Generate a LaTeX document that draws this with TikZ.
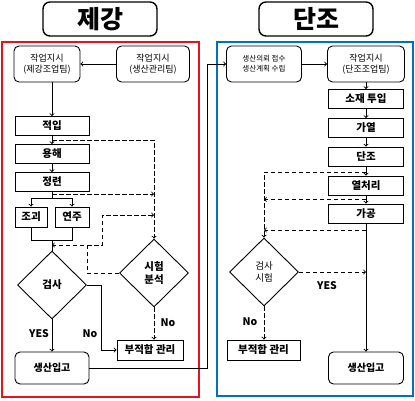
\documentclass[tikz,border=0pt]{standalone}
\usepackage{fontspec}
\setmainfont{Noto Sans CJK KR}
\usetikzlibrary{shapes.geometric}
\definecolor{framered}{RGB}{228,20,30}
\definecolor{frameblue}{RGB}{0,112,192}

\begin{document}
\begin{tikzpicture}[x=1pt, y=-1pt, line width=0.9pt,
  title/.style={draw, rounded corners=7pt, line width=1.4pt, minimum width=114pt, minimum height=34pt, font=\fontsize{25}{27}\selectfont\bfseries},
  box/.style={draw, minimum height=19pt, inner sep=0pt, font=\fontsize{10.5}{12}\selectfont\bfseries},
  rbox/.style={draw, rounded corners=5pt, minimum height=36pt, inner sep=0pt, align=center, font=\fontsize{9}{11.5}\selectfont},
  dia/.style={draw, diamond, inner sep=0pt, minimum width=69pt, minimum height=68pt, align=center, font=\fontsize{10.5}{13}\selectfont\bfseries},
  dline/.style={dashed, dash pattern=on 4.5pt off 2.5pt},
  lbl/.style={font=\fontsize{10.5}{12}\selectfont\bfseries}]
\useasboundingbox (0,0) rectangle (415,400);
% Titles
\node[title] (t1) at (100,19) {제강};
\node[title] (t2) at (316,19) {단조};
% Frames
\draw[framered, line width=1.3pt] (2,42) rectangle (199,397);
\draw[frameblue, line width=1.3pt] (217,42) rectangle (413,396);

% 제강
\node[rbox, minimum width=66pt] (wo1) at (47,64) {작업지시\\(제강조업팀)};
\node[rbox, minimum width=73pt] (wo2) at (153,64) {작업지시\\(생산관리팀)};
\foreach \y/\name/\txt in {126/s1/적입,154/s2/용해,182/s3/정련}
  \node[box, minimum width=74pt] (\name) at (52,\y) {\txt};
\node[box, minimum width=32pt, minimum height=20pt] (ingot) at (31,217) {조괴};
\node[box, minimum width=34pt, minimum height=20pt] (cc) at (72,217) {연주};
\node[dia] (insp1) at (52,285) {검사};
\node[dia] (test) at (154,273) {시험\\분석};
\node[box, minimum width=66pt, minimum height=20pt] (rej1) at (150,350) {부적합 관리};
\node[rbox, minimum width=74pt, minimum height=32pt, font=\fontsize{10}{12}\selectfont\bfseries] (st1) at (52,368) {생산입고};
\node[lbl] (yes1) at (39,334) {YES};
\node[lbl] (no1) at (90,334) {No};
\node[lbl] (no2) at (168,323) {No};

\draw[->] (wo2) -- (wo1);
\draw[->] (wo1.south -| s1) -- (s1);
\draw[->] (s1) -- (s2);
\draw[->] (s2) -- (s3);
\coordinate (sp) at (52,198);
\draw (s3) -- (sp);
\draw[->] (sp) -| (ingot);
\draw[->] (sp) -| (cc);
\coordinate (jn) at (52,240);
\draw (ingot) |- (jn);
\draw (cc) |- (jn);
\draw (jn) -- (insp1);
\draw[->] (insp1) -- (st1);
\draw[->] (insp1.east) -- ++(14,0) |- (rej1);
% test loop
\coordinate (c1) at (52,140);
\coordinate (c2) at (52,194);
\coordinate (c3) at (87,245);
\coordinate (c4) at (102,215);
\draw[dline,->] (c1) -| (test);
\draw[dline,->] (c2) -- (c2 -| test);
\draw[dline,->] (test.west) -| (c3) -- (c3 -| insp1);
\draw[dline,->] (c3) -| (c4) -- (c4 -| test);
\draw[dline,->] (test.south) -- (test.south |- rej1.north);

% 단조
\node[rbox, minimum width=75pt, font=\fontsize{7.5}{10}\selectfont] (plan) at (264,64) {생산의뢰 접수\\생산계획 수립};
\node[rbox, minimum width=77pt] (wo3) at (366,64) {작업지시\\(단조조업팀)};
\foreach \y/\name/\txt in {99/f1/소재 투입,128/f2/가열,156.5/f3/단조,185.5/f4/열처리,213.5/f5/가공}
  \node[box, minimum width=75pt] (\name) at (366,\y) {\txt};
\node[dia, font=\fontsize{9.5}{12}\selectfont] (insp2) at (264,272) {검사\\시험};
\node[box, minimum width=73pt, minimum height=20pt] (rej2) at (263.5,350) {부적합 관리};
\node[rbox, minimum width=75pt, minimum height=32pt, font=\fontsize{10}{12}\selectfont\bfseries] (st2) at (366,368) {생산입고};
\node[lbl] (yes2) at (327,286) {YES};
\node[lbl] (no3) at (250,322) {No};

% to 단조
\coordinate (c5) at (207,368);
\draw[->] (st1.east) -- (c5) |- (plan.west);

\draw[->] (plan) -- (wo3);
\draw[->] (wo3) -- (f1);
\foreach \a/\b in {f1/f2,f2/f3,f3/f4,f4/f5}
  \draw[->] (\a) -- (\b);
\draw[->] (f5) -- (st2);
\coordinate (c6) at (366,172);
\coordinate (c7) at (366,199.5);
\coordinate (c8) at (366,230);
\draw[dline,->] (c6) -| (insp2);
\draw[dline,->] (c7) -- (c7 -| insp2);
\draw[dline,->] (c8) -- (c8 -| insp2);
\draw[dline,->] (insp2) -- (insp2 -| f5);
\draw[dline,->] (insp2.south) -- (insp2.south |- rej2.north);
\end{tikzpicture}
\end{document}
